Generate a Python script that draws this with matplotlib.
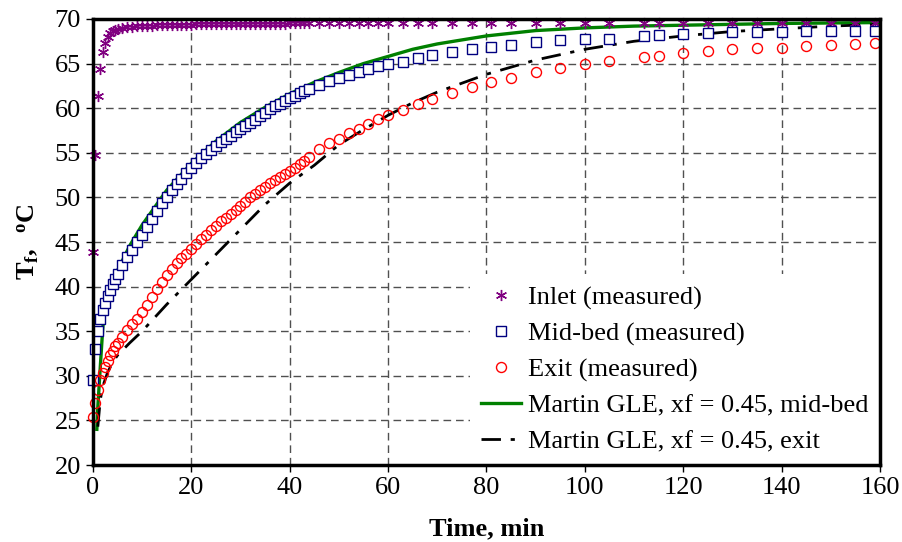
import matplotlib.pyplot as plt

plt.rcParams['font.family'] = 'Liberation Serif'
plt.rcParams['mathtext.fontset'] = 'custom'
plt.rcParams['mathtext.rm'] = 'Liberation Serif'
plt.rcParams['mathtext.bf'] = 'Liberation Serif:bold'
plt.rcParams['mathtext.it'] = 'Liberation Serif:italic'

# measured sampling times, min
t_meas = [0, 0.5, 1, 1.5, 2, 2.5, 3, 3.5, 4, 4.5, 5,
          6, 7, 8, 9, 10, 11, 12, 13, 14, 15,
          16, 17, 18, 19, 20, 21, 22, 23, 24, 25,
          26, 27, 28, 29, 30, 31, 32, 33, 34, 35,
          36, 37, 38, 39, 40, 41, 42, 43, 44,
          46, 48, 50, 52, 54, 56, 58, 60,
          63, 66, 69, 73, 77, 81, 85, 90, 95, 100, 105, 112, 115,
          120, 125, 130, 135, 140, 145, 150, 155, 159]

inlet = [43.9, 54.8, 61.4, 64.4, 66.3, 67.3, 68.0, 68.4, 68.7, 68.8, 68.9,
         69.0, 69.1, 69.1, 69.2, 69.2, 69.2, 69.2, 69.3, 69.3, 69.3,
         69.3, 69.3, 69.3, 69.3, 69.3, 69.4, 69.4, 69.4, 69.4, 69.4,
         69.4, 69.4, 69.4, 69.4, 69.4, 69.4, 69.4, 69.4, 69.4, 69.4,
         69.4, 69.4, 69.4, 69.4, 69.5, 69.5, 69.5, 69.5, 69.5,
         69.5, 69.5, 69.5, 69.5, 69.5, 69.5, 69.5, 69.5,
         69.5, 69.5, 69.5, 69.5, 69.5, 69.5, 69.6, 69.6, 69.6, 69.6, 69.6,
         69.6, 69.6, 69.6, 69.6, 69.6, 69.6, 69.6, 69.6, 69.6, 69.6, 69.6]

midbed = [29.5, 33.0, 35.0, 36.4, 37.4, 38.2, 38.9, 39.6, 40.3, 40.9, 41.4,
          42.4, 43.3, 44.1, 45.0, 45.8, 46.7, 47.6, 48.5, 49.4, 50.1,
          50.8, 51.5, 52.1, 52.7, 53.3, 53.9, 54.4, 54.9, 55.3, 55.8,
          56.2, 56.6, 56.9, 57.3, 57.7, 58.0, 58.3, 58.7, 59.1, 59.5,
          59.9, 60.2, 60.5, 60.8, 61.1, 61.4, 61.7, 61.9, 62.2,
          62.6, 63.0, 63.4, 63.7, 64.0, 64.4, 64.7, 65.0,
          65.2, 65.6, 66.0, 66.3, 66.6, 66.9, 67.1, 67.4, 67.6, 67.7, 67.8,
          68.1, 68.2, 68.3, 68.4, 68.5, 68.5, 68.5, 68.6, 68.7, 68.7, 68.7]

exit_ = [25.4, 27.0, 28.4, 29.5, 30.3, 31.0, 31.7, 32.3, 32.8, 33.3, 33.7,
         34.4, 35.1, 35.8, 36.4, 37.1, 37.9, 38.8, 39.7, 40.5, 41.3,
         42.0, 42.6, 43.2, 43.7, 44.2, 44.8, 45.3, 45.8, 46.3, 46.8,
         47.3, 47.7, 48.1, 48.6, 49.0, 49.5, 50.0, 50.4, 50.8, 51.2,
         51.6, 51.9, 52.3, 52.6, 53.0, 53.3, 53.7, 54.1, 54.5,
         55.4, 56.1, 56.6, 57.2, 57.7, 58.2, 58.8, 59.2,
         59.8, 60.5, 61.0, 61.7, 62.4, 62.9, 63.4, 64.1, 64.5, 64.9, 65.3,
         65.7, 65.9, 66.2, 66.4, 66.6, 66.7, 66.8, 67.0, 67.1, 67.2, 67.3]

# Martin GLE model curves
t_gle_mid = [0.8, 1, 1.5, 2, 2.5, 3, 4, 5, 7.5, 10, 15, 20, 25, 30, 35, 40, 45,
             50, 55, 60, 65, 70, 80, 90, 100, 110, 120, 130, 140, 150, 160]
gle_mid = [24.0, 26.5, 31.0, 35.3, 38.0, 39.3, 40.8, 41.8, 44.6, 46.9, 50.8,
           53.8, 56.3, 58.4, 60.1, 61.6, 62.9, 64.0, 65.0, 65.8, 66.6, 67.2,
           68.1, 68.7, 69.0, 69.2, 69.3, 69.4, 69.5, 69.55, 69.6]

t_gle_exit = [1, 1.5, 2, 3, 4, 5, 7.5, 10, 15, 20, 25, 30, 35, 40, 45, 50, 55,
              60, 65, 70, 80, 90, 100, 110, 120, 130, 140, 150, 160]
gle_exit = [24.3, 27.3, 28.8, 30.4, 31.5, 32.3, 33.7, 35.0, 38.0, 40.8, 43.6,
            46.4, 49.2, 51.6, 53.6, 55.9, 57.6, 59.2, 60.6, 61.8, 63.8, 65.4,
            66.6, 67.5, 68.1, 68.6, 68.9, 69.2, 69.4]

fig = plt.figure(figsize=(9.02, 5.42), dpi=100)
ax = fig.add_axes([0.103, 0.142, 0.8726, 0.823])

ax.plot(t_meas, inlet, linestyle='none', marker=(6, 2, 0), markersize=8,
        markeredgecolor='#800080', markerfacecolor='#800080', markeredgewidth=1,
        label='Inlet (measured)', zorder=4, clip_on=False)
ax.plot(t_meas, midbed, linestyle='none', marker='s', markersize=6.8,
        markeredgecolor='#000080', markerfacecolor='white', markeredgewidth=1,
        label='Mid-bed (measured)', zorder=4, clip_on=False)
ax.plot(t_meas, exit_, linestyle='none', marker='o', markersize=7.2,
        markeredgecolor='red', markerfacecolor='none', markeredgewidth=1,
        label='Exit (measured)', zorder=4, clip_on=False)
ax.plot(t_gle_mid, gle_mid, color='#008000', linewidth=2.4,
        label='Martin GLE, xf = 0.45, mid-bed', zorder=3)
ax.plot(t_gle_exit, gle_exit, color='black', linewidth=2,
        dashes=(7, 3.5, 1.5, 3.5), label='Martin GLE, xf = 0.45, exit', zorder=3)

ax.set_xlim(0, 160)
ax.set_ylim(20, 70)
ax.set_xticks(range(0, 161, 20))
ax.set_yticks(range(20, 71, 5))
ax.grid(True, color='#505050', linestyle=(0, (5.5, 3.5)), linewidth=1)
ax.tick_params(direction='out', length=5, width=1, labelsize=19)
for s in ax.spines.values():
    s.set_linewidth(2.5)
    s.set_zorder(6)

ax.set_xlabel('Time, min', fontsize=19, fontweight='bold', labelpad=13)
ax.set_ylabel(r'$\mathbf{T_f,\ \ {}^oC}$', fontsize=19, labelpad=10)

leg = ax.legend(loc='lower right', frameon=True, fancybox=False, fontsize=19,
                handlelength=1.5, handletextpad=0.25, labelspacing=0.46,
                borderaxespad=0.0, borderpad=0.45, facecolor='white',
                edgecolor='none', framealpha=1)
leg.set_zorder(5)

fig.savefig('out.png', dpi=100)
